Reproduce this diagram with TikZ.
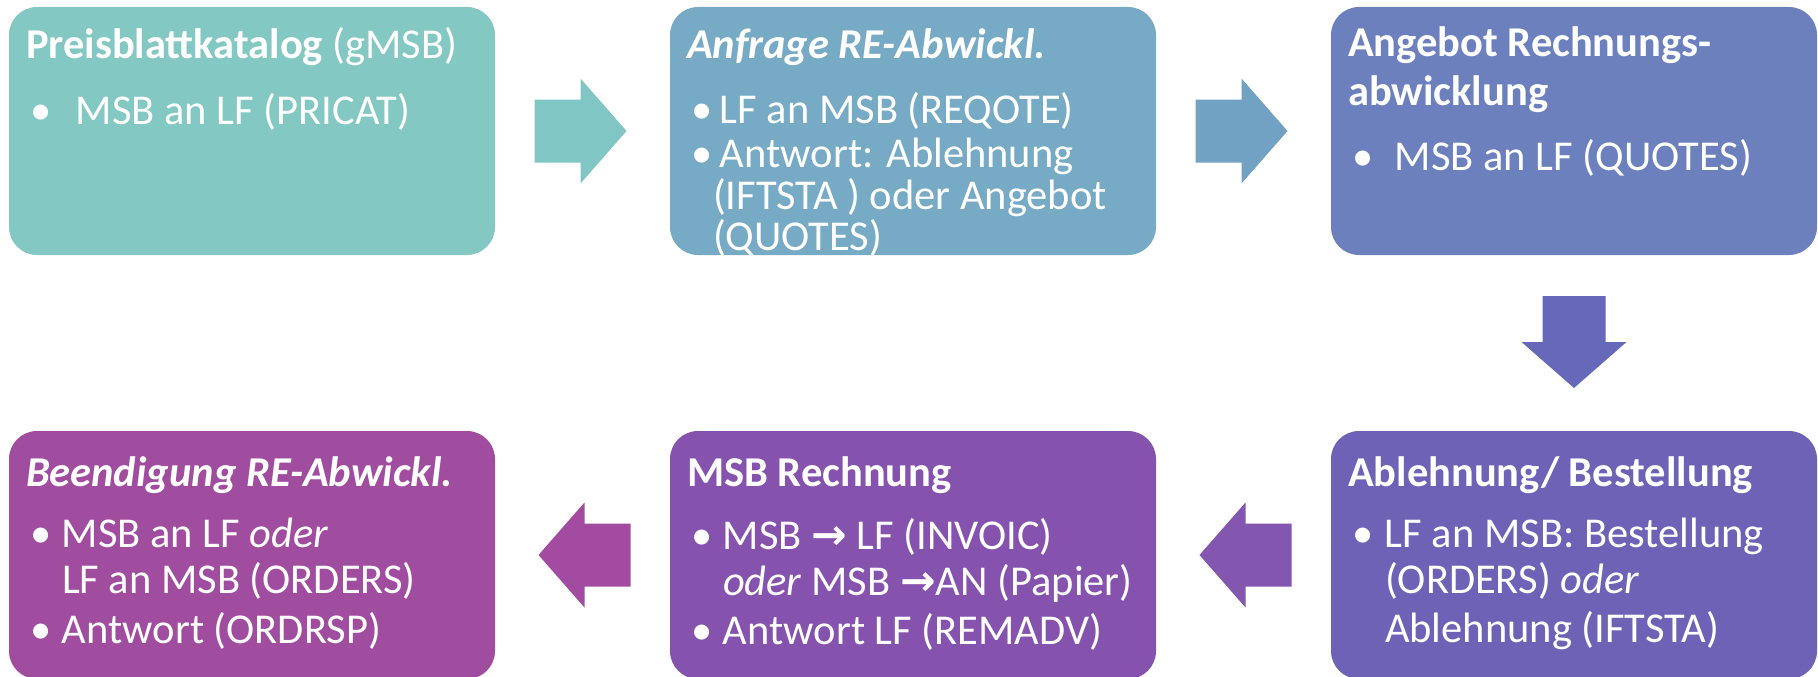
\documentclass[tikz,border=0pt]{standalone}
\usepackage{fontspec}
\setmainfont{Carlito}
\newfontfamily\symfont{DejaVu Sans}
\usetikzlibrary{calc}
\definecolor{cA}{HTML}{83C8C2}
\definecolor{cB}{HTML}{77AAC4}
\definecolor{cC}{HTML}{6C80BD}
\definecolor{cD}{HTML}{6D62B5}
\definecolor{cE}{HTML}{8552AD}
\definecolor{cF}{HTML}{A04DA0}
\definecolor{aA}{HTML}{80C6C5}
\definecolor{aB}{HTML}{72A2C3}
\definecolor{aC}{HTML}{6669B9}
\definecolor{aD}{HTML}{8356AF}
\definecolor{aE}{HTML}{A24BA1}
\newcommand{\bl}[1]{\makebox[#1pt][l]{\hspace{4pt}\textbullet}}
\newcommand{\ind}[1]{\makebox[#1pt]{}}
\newcommand{\rar}{{\symfont\bfseries\char"2192}}
\newcommand{\tb}[1]{\parbox[t]{470pt}{\raggedright #1}}
\newcommand{\blockarrow}{(-46,-31.5) -- (0,-31.5) -- (0,-52.5) -- (46,0) -- (0,52.5) -- (0,31.5) -- (-46,31.5) -- cycle}
\begin{document}
\begin{tikzpicture}[x=1pt,y=-1pt,
  box/.style={rounded corners=28pt, minimum width=486pt, minimum height=248pt, inner sep=0pt},
  txt/.style={anchor=base west, text=white, font=\fontsize{42.5}{47}\selectfont, inner sep=0pt}]
\useasboundingbox (0,0) rectangle (1818,677);
% boxes
\node[box, fill=cA] (b1) at (252,131) {};
\node[box, fill=cB] (b2) at (913,131) {};
\node[box, fill=cC] (b3) at (1574,131) {};
\node[box, fill=cD] (b4) at (1574,555) {};
\node[box, fill=cE] (b5) at (913,555) {};
\node[box, fill=cF] (b6) at (252,555) {};
% texts
\node[txt] (t1) at ($(b1.north west)+(17,52)$)
  {\tb{\textbf{Preisblattkatalog} (gMSB)\\[19pt]
   \bl{50}MSB an LF (PRICAT)}};
\node[txt] (t2) at ($(b2.north west)+(17,52)$)
  {\tb{\textbf{\textit{Anfrage RE-Abwickl.}}\\[18pt]
   \bl{33}LF an MSB (REQOTE)\\[-3pt]
   \bl{33}Antwort: Ablehnung\\[-5pt]
   \ind{26}(IFTSTA ) oder Angebot\\[-6pt]
   \ind{26}(QUOTES)}};
\node[txt] (t3) at ($(b3.north west)+(17,50)$)
  {\tb{\textbf{Angebot Rechnungs-}\\[2pt]
   \textbf{abwicklung}\\[18pt]
   \bl{47}MSB an LF (QUOTES)}};
\node[txt] (t4) at ($(b4.north west)+(17,56)$)
  {\tb{\textbf{Ablehnung/ Bestellung}\\[14pt]
   \bl{37}LF an MSB: Bestellung\\[-1pt]
   \ind{37}(ORDERS) \textit{oder}\\[2pt]
   \ind{37}Ablehnung (IFTSTA)}};
\node[txt] (t5) at ($(b5.north west)+(17,56)$)
  {\tb{\textbf{MSB Rechnung}\\[16pt]
   \bl{36}MSB \rar{} LF (INVOIC)\\[-1pt]
   \ind{36}\textit{oder} MSB \rar AN (Papier)\\[2pt]
   \bl{36}Antwort LF (REMADV)}};
\node[txt] (t6) at ($(b6.north west)+(17,56)$)
  {\tb{\textbf{\textit{Beendigung RE-Abwickl.}}\\[14pt]
   \bl{36}MSB an LF \textit{oder}\\[-1pt]
   \ind{36}LF an MSB (ORDERS)\\[3pt]
   \bl{36}Antwort (ORDRSP)}};
% block arrows
\coordinate (a1) at ($(b1.east)!0.5!(b2.west)+(-2,0)$);
\coordinate (a2) at ($(b2.east)!0.5!(b3.west)+(-2,0)$);
\coordinate (a3) at ($(b3.south)!0.5!(b4.north)+(0,-1)$);
\coordinate (a4) at ($(b4.west)!0.5!(b5.east)+(2,0)$);
\coordinate (a5) at ($(b5.west)!0.5!(b6.east)+(2,0)$);
\fill[aA, shift={(a1)}] \blockarrow;
\fill[aB, shift={(a2)}] \blockarrow;
\fill[aC, shift={(a3)}, rotate=-90] \blockarrow;
\fill[aD, shift={(a4)}, rotate=180] \blockarrow;
\fill[aE, shift={(a5)}, rotate=180] \blockarrow;
\end{tikzpicture}
\end{document}
